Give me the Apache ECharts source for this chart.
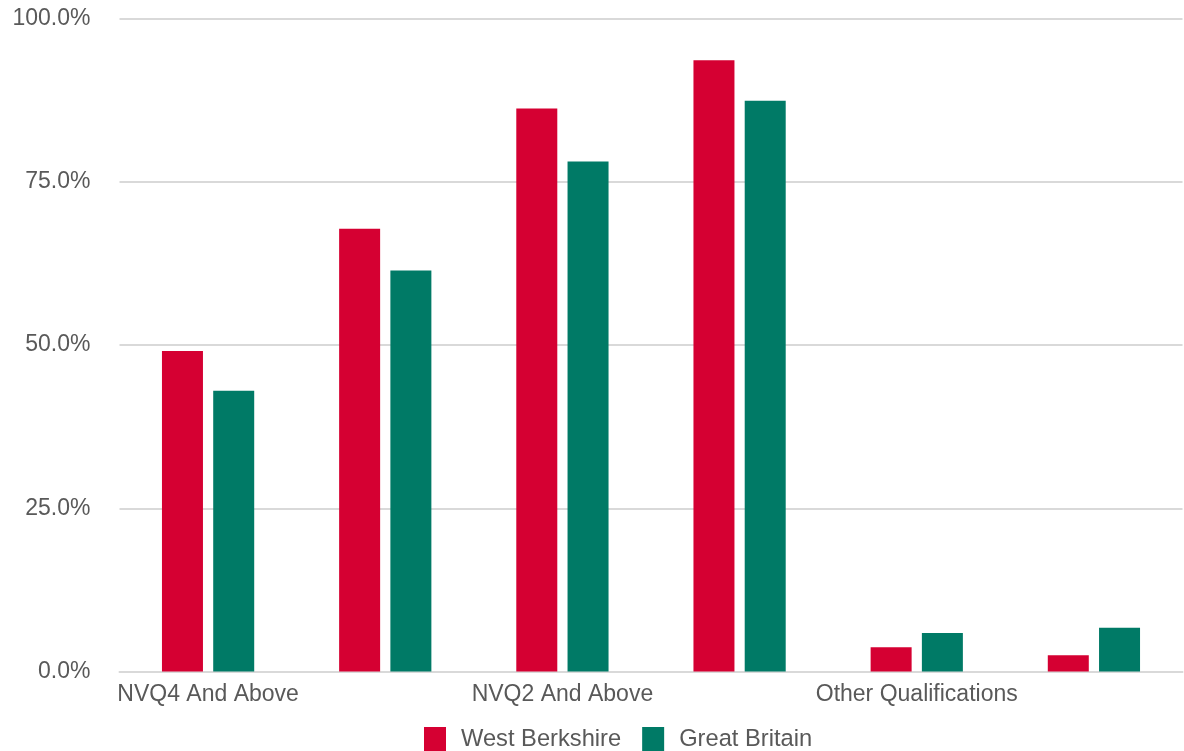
<!DOCTYPE html>
<html>
<head>
<meta charset="utf-8">
<script src="https://cdn.jsdelivr.net/npm/echarts@6/dist/echarts.min.js"></script>
<style>html,body{margin:0;padding:0;background:#fff}#c{width:1184px;height:751px}</style>
</head>
<body>
<div id="c"></div>
<script>
const categories = ["NVQ4 And Above", "NVQ3 And Above", "NVQ2 And Above", "NVQ1 And Above", "Other Qualifications", "No Qualifications"];
const westBerkshire = [49.1, 67.8, 86.2, 93.6, 3.7, 2.5];
const greatBritain = [43.0, 61.4, 78.1, 87.4, 5.9, 6.7];
const yTicks = [0, 25, 50, 75, 100];

const font = "'Liberation Sans', Arial, sans-serif";
const chart = echarts.init(document.getElementById('c'));
chart.setOption({
  animation: false,
  textStyle: { fontFamily: font },
  grid: { left: 119.5, right: 1.5, top: 18.5, bottom: 79.5, containLabel: false },
  legend: {
    bottom: 0, left: 424, padding: 0,
    itemWidth: 22, itemHeight: 24, itemGap: 21,
    icon: 'rect',
    textStyle: { fontSize: 23.7, color: '#595959', fontFamily: font, padding: [0, 0, 0, 10] },
    data: ['West Berkshire', 'Great Britain']
  },
  xAxis: {
    type: 'category',
    data: categories,
    axisLine: { lineStyle: { color: '#d9d9d9', width: 2 } },
    axisTick: { show: false },
    axisLabel: { interval: 1, color: '#595959', fontSize: 23, margin: 12, fontFamily: font }
  },
  yAxis: {
    type: 'value',
    min: yTicks[0], max: yTicks[yTicks.length - 1], interval: 25,
    axisLine: { show: false },
    axisTick: { show: false },
    splitLine: { lineStyle: { color: '#d9d9d9', width: 2 } },
    axisLabel: { color: '#595959', fontSize: 23, margin: 29, fontFamily: font,
      formatter: v => v.toFixed(1) + '%' }
  },
  series: [
    { name: 'West Berkshire', type: 'bar', data: westBerkshire, itemStyle: { color: '#D50032' }, barWidth: 41, barGap: '25%' },
    { name: 'Great Britain', type: 'bar', data: greatBritain, itemStyle: { color: '#007A66' }, barWidth: 41, barGap: '25%' }
  ]
});
</script>
</body>
</html>
